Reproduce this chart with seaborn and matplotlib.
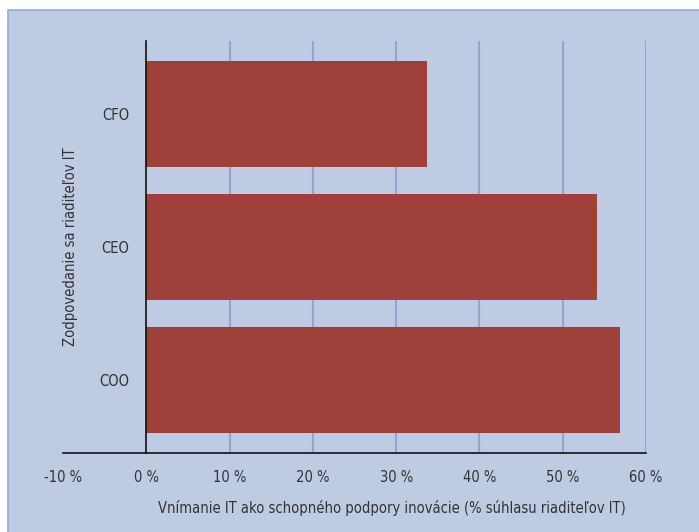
import matplotlib
matplotlib.use("Agg")
import matplotlib.pyplot as plt
from matplotlib.patches import Rectangle
from matplotlib.ticker import FuncFormatter
from matplotlib import font_manager
import seaborn as sns
import pandas as pd

categories = ["CFO", "CEO", "COO"]
values = [33.7, 54.1, 56.9]
x_ticks = [-10, 0, 10, 20, 30, 40, 50, 60]
x_label = "Vnímanie IT ako schopného podpory inovácie (% súhlasu riaditeľov IT)"
y_label = "Zodpovedanie sa riaditeľov IT"

sns.set_theme(style="white")
names = {f.name for f in font_manager.fontManager.ttflist}
fam = "Liberation Sans Narrow" if "Liberation Sans Narrow" in names else "DejaVu Sans"
plt.rcParams["font.family"] = [fam, "DejaVu Sans"]
plt.rcParams["font.stretch"] = "condensed"

BG = "#bfcbe3"
BAR = "#a0403a"
GRID = "#8fa7cf"
TXT = "#333333"

df = pd.DataFrame({"role": categories, "value": values})

fig = plt.figure(figsize=(6.99, 5.32), dpi=100)
fig.patch.set_facecolor("white")
fig.patches.append(Rectangle((8 / 699, -0.1), 1.2, 1.1 - 10 / 532,
                             transform=fig.transFigure, facecolor=BG,
                             edgecolor="#93a9d4", linewidth=1.2, zorder=-5))

ax = fig.add_axes([63 / 699, 1 - 453 / 532, 583 / 699, 412 / 532])
ax.set_zorder(2)
ax.set_facecolor(BG)

sns.barplot(data=df, x="value", y="role", orient="h", color=BAR,
            saturation=1, width=0.8, linewidth=0, ax=ax, zorder=3)

ax.set_xlim(-10, 60)
ax.set_ylim(2.55, -0.55)
ax.set_xticks(x_ticks)
ax.xaxis.set_major_formatter(FuncFormatter(lambda v, p: f"{int(v)} %"))

for t in x_ticks[2:]:
    ax.axvline(t, color=GRID, linewidth=1.5, zorder=1)

for s in ["top", "right"]:
    ax.spines[s].set_visible(False)
ax.spines["left"].set_position(("data", 0))
ax.spines["left"].set_color("#111111")
ax.spines["left"].set_linewidth(1.2)
ax.spines["left"].set_zorder(4)
ax.spines["bottom"].set_color("#111111")
ax.spines["bottom"].set_linewidth(1.2)

fs = 12 if fam != "DejaVu Sans" else 10.5
ax.tick_params(axis="both", length=0, labelsize=fs, labelcolor=TXT)
ax.tick_params(axis="y", pad=12)
ax.tick_params(axis="x", pad=12)

ax.set_xlabel(x_label, fontsize=fs, color=TXT)
ax.set_ylabel(y_label, fontsize=fs, color=TXT)
ax.xaxis.set_label_coords((392 - 63) / 583, -(508 - 453) / 412)
ax.yaxis.set_label_coords((70 - 63) / 583, 0.5)
ax.xaxis.label.set_va("center")
ax.yaxis.label.set_va("center")

fig.savefig("out.png", dpi=100, facecolor="white")
